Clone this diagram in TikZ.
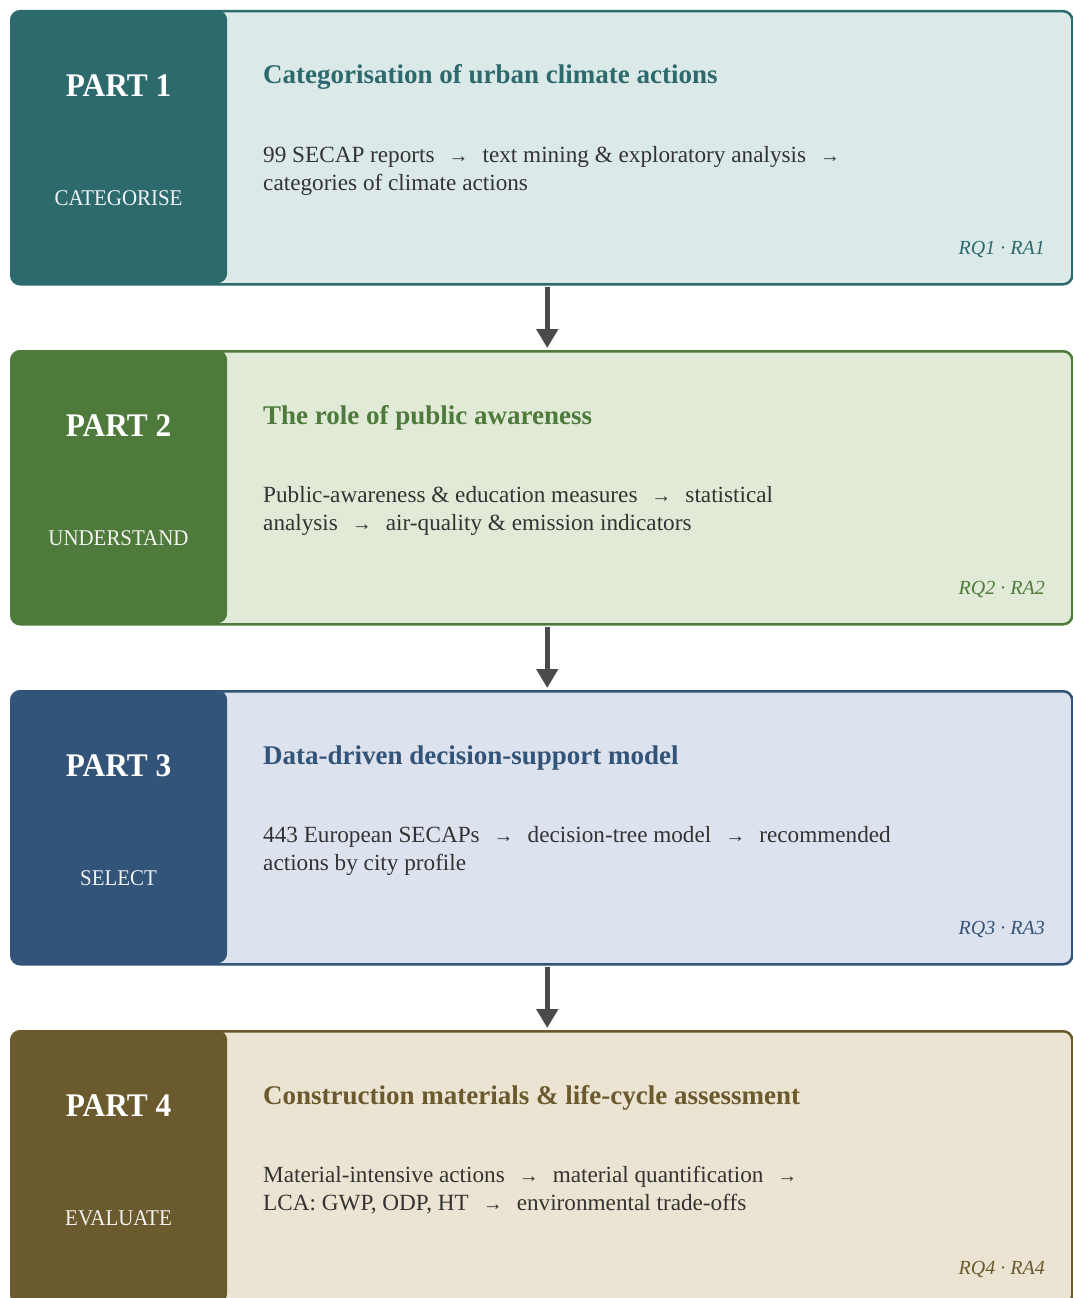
\documentclass[tikz,border=0pt]{standalone}
\usepackage{fontspec}
\usepackage{graphicx}
\setmainfont{Liberation Serif}
\usetikzlibrary{arrows.meta}

% stage colours: dark accent and pale background
\definecolor{dk1}{HTML}{2D6A6E}\definecolor{lt1}{HTML}{DCE9E9}
\definecolor{dk2}{HTML}{4E7A3C}\definecolor{lt2}{HTML}{E1EAD6}
\definecolor{dk3}{HTML}{335479}\definecolor{lt3}{HTML}{DCE2EE}
\definecolor{dk4}{HTML}{6A5A2E}\definecolor{lt4}{HTML}{ECE4D2}
\definecolor{bodytext}{HTML}{333333}
\definecolor{flowgray}{HTML}{4A4A4A}

% small inline arrow between the steps of a method
\newcommand\stepto{\hspace{14pt}{\fontsize{20}{20}\selectfont →}\hspace{14pt}}

\tikzset{
  stagebox/.style={draw=#1, line width=2.5pt, rounded corners=9pt,
    minimum width=1061pt, minimum height=273pt, anchor=north west, inner sep=0pt},
  tabbox/.style={fill=#1, rounded corners=10pt, minimum width=217pt, minimum height=273pt,
    anchor=north west, inner sep=0pt},
  parttext/.style={text=white, anchor=base, inner sep=0pt,
    font=\fontsize{33}{33}\selectfont\bfseries},
  verbtext/.style={text=white!92!#1, anchor=base, inner sep=0pt,
    font=\fontsize{22.5}{22.5}\selectfont},
  headtext/.style={text=#1, anchor=base west, inner sep=0pt,
    font=\fontsize{27}{27}\selectfont\bfseries},
  bodyline/.style={text=bodytext, anchor=base west, inner sep=0pt,
    font=\fontsize{23.2}{23.2}\selectfont},
  rqtext/.style={text=#1, anchor=base east, inner sep=0pt,
    font=\fontsize{20}{20}\selectfont\itshape},
  flow/.style={draw=flowgray, line width=5pt,
    -{Triangle[width=21pt,length=19pt]}, shorten >=2pt, shorten <=1pt},
}

% one stage: #1 number, #2 verb, #3 title, #4 first method line, #5 second method line
\newcommand\stageblock[5]{%
  \pgfmathsetmacro\topy{10+340*(#1-1)}
  \node[stagebox=dk#1, fill=lt#1] (box#1) at (10,\topy) {};
  \node[tabbox=dk#1] (tab#1) at (10,\topy) {};
  \node[parttext] (part#1) at (118.5,\topy+86) {\scalebox{0.95}[1]{PART #1}};
  \node[verbtext=dk#1] (verb#1) at (118.5,\topy+195) {\scalebox{0.93}[1]{#2}};
  \node[headtext=dk#1] (head#1) at (263,\topy+74) {#3};
  \node[bodyline] (bodyA#1) at (263,\topy+152) {#4};
  \node[bodyline] (bodyB#1) at (263,\topy+180) {#5};
  \node[rqtext=dk#1] (rq#1) at (1045,\topy+244) {RQ#1 · RA#1};
}

\begin{document}
\begin{tikzpicture}[x=1pt, y=-1pt]
  \useasboundingbox (0,0) rectangle (1073,1298);
  \clip (0,0) rectangle (1073,1298);

  \stageblock{1}{CATEGORISE}{Categorisation of urban climate actions}
    {99 SECAP reports\stepto text mining \& exploratory analysis\stepto}
    {categories of climate actions}
  \stageblock{2}{UNDERSTAND}{The role of public awareness}
    {Public-awareness \& education measures\stepto statistical}
    {analysis\stepto air-quality \& emission indicators}
  \stageblock{3}{SELECT}{Data-driven decision-support model}
    {443 European SECAPs\stepto decision-tree model\stepto recommended}
    {actions by city profile}
  \stageblock{4}{EVALUATE}{Construction materials \& life-cycle assessment}
    {Material-intensive actions\stepto material quantification\stepto}
    {LCA: GWP, ODP, HT\stepto environmental trade-offs}

  % flow from one stage to the next
  \draw[flow] ([xshift=5.5pt]box1.south) -- ([xshift=5.5pt]box2.north);
  \draw[flow] ([xshift=5.5pt]box2.south) -- ([xshift=5.5pt]box3.north);
  \draw[flow] ([xshift=5.5pt]box3.south) -- ([xshift=5.5pt]box4.north);
\end{tikzpicture}
\end{document}
